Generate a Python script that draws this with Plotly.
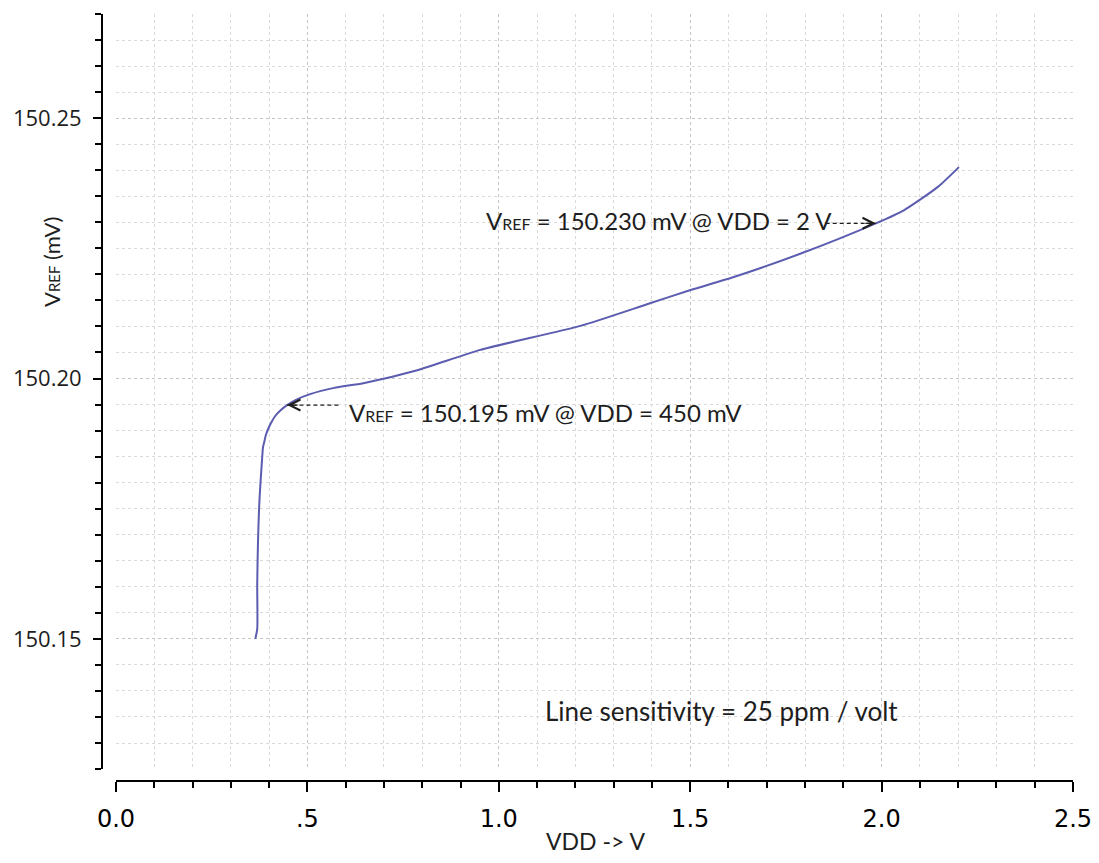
import plotly.graph_objects as go

# ---- data ----
vdd = [0.364, 0.369, 0.369, 0.374, 0.382, 0.384, 0.388, 0.391, 0.398, 0.406,
       0.416, 0.430, 0.447, 0.470, 0.507, 0.570, 0.646, 0.787, 0.952, 1.213,
       1.389, 1.501, 1.614, 1.789, 1.985, 2.058, 2.147, 2.202]
vref = [150.1500, 150.1519, 150.1607, 150.1753, 150.1849, 150.1868, 150.1880,
        150.1890, 150.1904, 150.1916, 150.1928, 150.1939, 150.1949, 150.1959,
        150.1970, 150.1982, 150.1991, 150.2016, 150.2055, 150.2101, 150.2143,
        150.2170, 150.2195, 150.2240, 150.2298, 150.2323, 150.2368, 150.2406]

x_tick_vals = [0.0, 0.5, 1.0, 1.5, 2.0, 2.5]
x_tick_text = ["0.0", ".5", "1.0", "1.5", "2.0", "2.5"]
y_tick_vals = [150.15, 150.20, 150.25]
y_tick_text = ["150.15", "150.20", "150.25"]

# annotation anchors (data units)
note_text = ["V<span style='font-size:16px'>REF</span> = 150.195 mV @ VDD = 450 mV",
             "V<span style='font-size:16px'>REF</span> = 150.230 mV @ VDD = 2 V"]
note_text_x = [0.604, 0.962]
note_text_y = [150.1934, 150.2304]
tip_x = [0.447, 1.985]
tip_y = [150.1949, 150.2298]
tail_x = [0.581, 1.854]
arrow_dir = [1, -1]   # +1: head points left, -1: head points right

sens_text = "Line sensitivity = 25 ppm / volt"
sens_x, sens_y = 1.582, 150.1362

TXT = "#1e1e1e"
ANN_FONT = dict(family="Lato", size=24, color=TXT)

fig = go.Figure()
fig.add_trace(go.Scatter(x=vdd, y=vref, mode="lines",
                         line=dict(color="#5c5cb0", width=2, shape="spline",
                                   smoothing=0.6),
                         showlegend=False, hoverinfo="skip"))

shapes = []
annotations = []
for i in range(2):
    shapes.append(dict(type="line", xref="x", yref="y",
                       x0=tail_x[i], x1=tip_x[i], y0=tip_y[i], y1=tip_y[i],
                       line=dict(color=TXT, width=1.2, dash="4px,3px")))
    annotations.append(dict(x=tip_x[i], y=tip_y[i], xref="x", yref="y",
                            text="", showarrow=True, ax=12 * arrow_dir[i], ay=0,
                            arrowhead=5, arrowsize=1.8, arrowwidth=1.2,
                            arrowcolor=TXT, standoff=0))
    annotations.append(dict(x=note_text_x[i], y=note_text_y[i], xref="x", yref="y",
                            text=note_text[i], showarrow=False,
                            xanchor="left", yanchor="middle", font=ANN_FONT))

annotations.append(dict(x=sens_x, y=sens_y, xref="x", yref="y", text=sens_text,
                        showarrow=False, xanchor="center", yanchor="middle",
                        font=dict(family="Lato", size=26, color=TXT)))
annotations.append(dict(x=1.2526, y=-0.078, xref="x", yref="paper", text="VDD -> V",
                        showarrow=False, xanchor="center", yanchor="middle",
                        font=dict(family="Lato", size=23, color=TXT)))
annotations.append(dict(x=-0.0515, y=0.6767, xref="paper", yref="paper",
                        text="V<span style='font-size:15px'>REF</span> (mV)",
                        textangle=-90, showarrow=False, xanchor="center",
                        yanchor="middle", font=dict(family="Lato", size=22, color=TXT)))

fig.update_layout(
    width=1091, height=855,
    margin=dict(l=94, r=26, t=6, b=82, autoexpand=False),
    paper_bgcolor="white", plot_bgcolor="white",
    shapes=shapes, annotations=annotations,
    xaxis=dict(range=[0, 2.5], domain=[0.0144, 1], anchor="free", position=0,
               automargin=False,
               tickmode="array", tickvals=x_tick_vals, ticktext=x_tick_text,
               ticks="outside", ticklen=10, tickwidth=1.5, tickcolor="black",
               ticklabelstandoff=6,
               showline=True, linecolor="black", linewidth=2,
               tickfont=dict(family="DejaVu Sans", size=24, color="black"),
               showgrid=True, gridcolor="#c4c4c4", griddash="dot", gridwidth=1,
               zeroline=False,
               minor=dict(dtick=0.1, tick0=0, ticks="outside", ticklen=6,
                          tickwidth=1.5, tickcolor="black", showgrid=True,
                          gridcolor="#dadada", griddash="dot", gridwidth=1)),
    yaxis=dict(range=[150.125, 150.27], domain=[0.0156, 1], anchor="free", position=0,
               automargin=False,
               tickmode="array", tickvals=y_tick_vals, ticktext=y_tick_text,
               ticks="outside", ticklen=8, tickwidth=1.5, tickcolor="black",
               ticklabelstandoff=7,
               showline=True, linecolor="black", linewidth=2,
               tickfont=dict(family="Open Sans", size=22, color=TXT),
               showgrid=True, gridcolor="#c4c4c4", griddash="dot", gridwidth=1,
               zeroline=False,
               minor=dict(dtick=0.005, tick0=150.15, ticks="outside", ticklen=6,
                          tickwidth=1.5, tickcolor="black", showgrid=True,
                          gridcolor="#dadada", griddash="dot", gridwidth=1)),
)

fig.write_html("out.html")
